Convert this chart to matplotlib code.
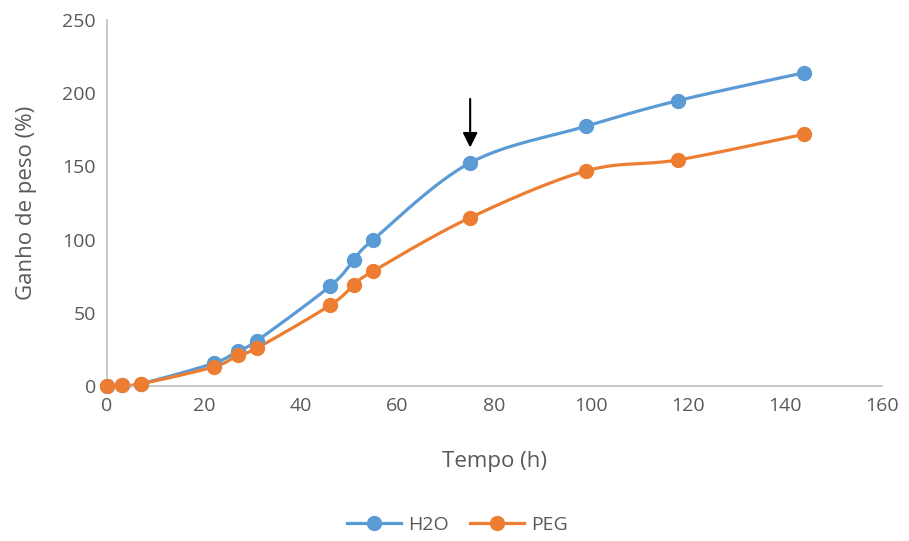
import matplotlib
matplotlib.use("Agg")
import matplotlib.pyplot as plt
import numpy as np

plt.rcParams['font.family'] = ['Open Sans', 'DejaVu Sans']

# dados
tempo = [0, 3, 7, 22, 27, 31, 46, 51, 55, 75, 99, 118, 144]
h2o = [0, 0.5, 1.5, 15.5, 24, 31, 68, 86, 100, 152.5, 177.5, 195, 214]
peg = [0, 0.5, 1.5, 13, 21, 26, 55, 69, 78.5, 115, 147, 154.5, 172]
x_ticks = [0, 20, 40, 60, 80, 100, 120, 140, 160]
y_ticks = [0, 50, 100, 150, 200, 250]

azul = '#5B9BD5'
laranja = '#ED7D31'
cinza = '#595959'


# linha suavizada tipo excel (bezier entre os pontos)
def suave(x, y, n=30):
    x = np.asarray(x, float)
    y = np.asarray(y, float)
    px = np.concatenate([[x[0]], x, [x[-1]]])
    py = np.concatenate([[y[0]], y, [y[-1]]])
    xs, ys = [], []
    for i in range(1, len(px) - 2):
        p0, p1, p2, p3 = px[i - 1], px[i], px[i + 1], px[i + 2]
        q0, q1, q2, q3 = py[i - 1], py[i], py[i + 1], py[i + 2]
        c1x = p1 + (p2 - p0) / 6
        c1y = q1 + (q2 - q0) / 6
        c2x = p2 - (p3 - p1) / 6
        c2y = q2 - (q3 - q1) / 6
        t = np.linspace(0, 1, n)
        xs.append((1 - t) ** 3 * p1 + 3 * (1 - t) ** 2 * t * c1x + 3 * (1 - t) * t ** 2 * c2x + t ** 3 * p2)
        ys.append((1 - t) ** 3 * q1 + 3 * (1 - t) ** 2 * t * c1y + 3 * (1 - t) * t ** 2 * c2y + t ** 3 * q2)
    return np.concatenate(xs), np.concatenate(ys)


fig = plt.figure(figsize=(9.09, 5.41), dpi=100)
ax = fig.add_axes([0.1177, 0.2865, 0.8523, 0.6765])

for ys, cor, nome in [(h2o, azul, 'H2O'), (peg, laranja, 'PEG')]:
    sx, sy = suave(tempo, ys)
    ax.plot(sx, sy, color=cor, lw=2.3, zorder=2, clip_on=False)
    ax.plot(tempo, ys, 'o', color=cor, ms=10, zorder=3, clip_on=False)
    ax.plot([], [], '-o', color=cor, lw=2.3, ms=10, label=nome)

ax.annotate('', xy=(75, 161), xytext=(75, 198),
            arrowprops=dict(arrowstyle='-|>', color='black', lw=1.5, mutation_scale=22))

ax.set_xlim(0, 160)
ax.set_ylim(0, 250)
ax.set_xticks(x_ticks)
ax.set_yticks(y_ticks)
ax.tick_params(length=0, labelsize=14, labelcolor=cinza, pad=8)
for s in ['top', 'right']:
    ax.spines[s].set_visible(False)
for s in ['left', 'bottom']:
    ax.spines[s].set_color('#BFBFBF')
    ax.spines[s].set_linewidth(1.2)

ax.set_xlabel('Tempo (h)', fontsize=16, color=cinza, labelpad=26)
ax.set_ylabel('Ganho de peso (%)', fontsize=16, color=cinza, labelpad=18)

leg = fig.legend(loc='center', bbox_to_anchor=(0.503, 0.03), ncol=2, frameon=False,
                 fontsize=14, handlelength=2.8, handletextpad=0.35, columnspacing=1.1)
for t in leg.get_texts():
    t.set_color(cinza)

fig.savefig('out.png', dpi=100)
